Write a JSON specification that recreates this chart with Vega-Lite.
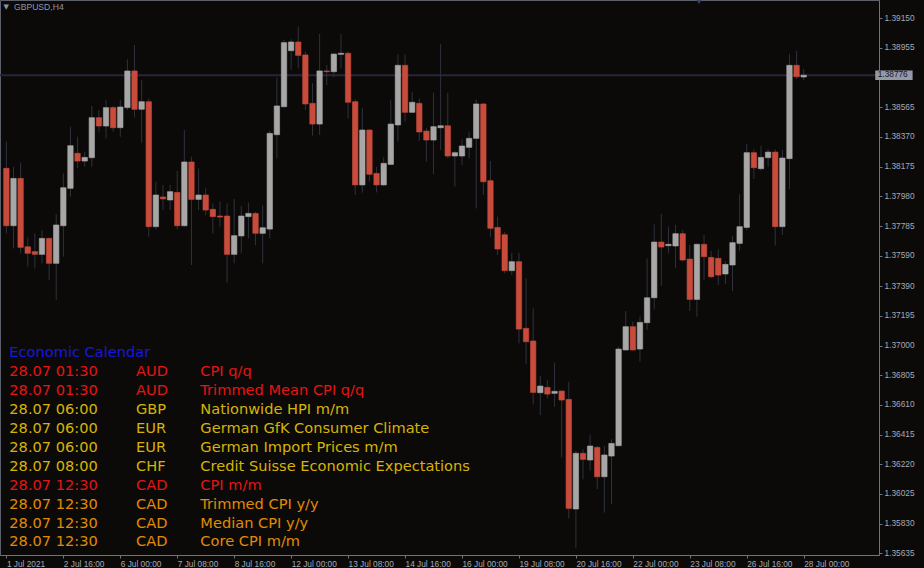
{
  "$schema": "https://vega.github.io/schema/vega-lite/v6.json",
  "width": 879,
  "height": 555,
  "autosize": {"type": "none"},
  "padding": {"left": 0, "top": 0, "right": 45, "bottom": 13},
  "background": "#0c0a08",
  "config": {
    "view": {"stroke": "#5c606c", "strokeWidth": 1},
    "axis": {"grid": false, "title": null, "labelOverlap": false, "labelSeparation": 0},
    "axisY": {"labelOverlap": false},
    "axisRight": {"labelOverlap": false},
    "axisQuantitative": {"labelOverlap": false}
  },
  "datasets": {
    "bars": [
      {"i": -8, "t": "2021-07-01 08:00", "o": 1.38164, "h": 1.38339, "l": 1.37737, "c": 1.37787},
      {"i": -7, "t": "2021-07-01 12:00", "o": 1.37787, "h": 1.38175, "l": 1.37638, "c": 1.38098},
      {"i": -6, "t": "2021-07-01 16:00", "o": 1.38098, "h": 1.38201, "l": 1.37606, "c": 1.37645},
      {"i": -5, "t": "2021-07-01 20:00", "o": 1.37649, "h": 1.37711, "l": 1.37518, "c": 1.37606},
      {"i": -4, "t": "2021-07-02 00:00", "o": 1.37617, "h": 1.37737, "l": 1.37507, "c": 1.37599},
      {"i": -3, "t": "2021-07-02 04:00", "o": 1.37599, "h": 1.37759, "l": 1.37540, "c": 1.37704},
      {"i": -2, "t": "2021-07-02 08:00", "o": 1.37704, "h": 1.37710, "l": 1.37430, "c": 1.37540},
      {"i": -1, "t": "2021-07-02 12:00", "o": 1.37540, "h": 1.37864, "l": 1.37299, "c": 1.37792},
      {"i": 0, "t": "2021-07-02 16:00", "o": 1.37787, "h": 1.38131, "l": 1.37584, "c": 1.38037},
      {"i": 1, "t": "2021-07-02 20:00", "o": 1.38033, "h": 1.38438, "l": 1.37978, "c": 1.38313},
      {"i": 2, "t": "2021-07-05 00:00", "o": 1.38263, "h": 1.38372, "l": 1.38164, "c": 1.38212},
      {"i": 3, "t": "2021-07-05 04:00", "o": 1.38212, "h": 1.38274, "l": 1.38175, "c": 1.38236},
      {"i": 4, "t": "2021-07-05 08:00", "o": 1.38234, "h": 1.38574, "l": 1.38175, "c": 1.38497},
      {"i": 5, "t": "2021-07-05 12:00", "o": 1.38497, "h": 1.38547, "l": 1.38405, "c": 1.38442},
      {"i": 6, "t": "2021-07-05 16:00", "o": 1.38442, "h": 1.38613, "l": 1.38361, "c": 1.38563},
      {"i": 7, "t": "2021-07-05 20:00", "o": 1.38563, "h": 1.38574, "l": 1.38405, "c": 1.38431},
      {"i": 8, "t": "2021-07-06 00:00", "o": 1.38431, "h": 1.38613, "l": 1.38372, "c": 1.38567},
      {"i": 9, "t": "2021-07-06 04:00", "o": 1.38563, "h": 1.38880, "l": 1.38547, "c": 1.38804},
      {"i": 10, "t": "2021-07-06 08:00", "o": 1.38804, "h": 1.38974, "l": 1.38499, "c": 1.38552},
      {"i": 11, "t": "2021-07-06 12:00", "o": 1.38552, "h": 1.38744, "l": 1.38333, "c": 1.38602},
      {"i": 12, "t": "2021-07-06 16:00", "o": 1.38602, "h": 1.38624, "l": 1.37715, "c": 1.37781},
      {"i": 13, "t": "2021-07-06 20:00", "o": 1.37781, "h": 1.38076, "l": 1.37763, "c": 1.37989},
      {"i": 14, "t": "2021-07-07 00:00", "o": 1.37976, "h": 1.38055, "l": 1.37890, "c": 1.37963},
      {"i": 15, "t": "2021-07-07 04:00", "o": 1.37956, "h": 1.38055, "l": 1.37890, "c": 1.38011},
      {"i": 16, "t": "2021-07-07 08:00", "o": 1.38006, "h": 1.38147, "l": 1.37763, "c": 1.37787},
      {"i": 17, "t": "2021-07-07 12:00", "o": 1.37787, "h": 1.38416, "l": 1.37781, "c": 1.38206},
      {"i": 18, "t": "2021-07-07 16:00", "o": 1.38206, "h": 1.38241, "l": 1.37529, "c": 1.37960},
      {"i": 19, "t": "2021-07-07 20:00", "o": 1.37960, "h": 1.38164, "l": 1.37890, "c": 1.37989},
      {"i": 20, "t": "2021-07-08 00:00", "o": 1.37989, "h": 1.38033, "l": 1.37857, "c": 1.37890},
      {"i": 21, "t": "2021-07-08 04:00", "o": 1.37895, "h": 1.37934, "l": 1.37737, "c": 1.37847},
      {"i": 22, "t": "2021-07-08 08:00", "o": 1.37851, "h": 1.37945, "l": 1.37781, "c": 1.37844},
      {"i": 23, "t": "2021-07-08 12:00", "o": 1.37851, "h": 1.37934, "l": 1.37413, "c": 1.37599},
      {"i": 24, "t": "2021-07-08 16:00", "o": 1.37599, "h": 1.37963, "l": 1.37540, "c": 1.37722},
      {"i": 25, "t": "2021-07-08 20:00", "o": 1.37720, "h": 1.37917, "l": 1.37606, "c": 1.37851},
      {"i": 26, "t": "2021-07-09 00:00", "o": 1.37847, "h": 1.37941, "l": 1.37704, "c": 1.37868},
      {"i": 27, "t": "2021-07-09 04:00", "o": 1.37868, "h": 1.37879, "l": 1.37660, "c": 1.37737},
      {"i": 28, "t": "2021-07-09 08:00", "o": 1.37737, "h": 1.37919, "l": 1.37540, "c": 1.37774},
      {"i": 29, "t": "2021-07-09 12:00", "o": 1.37765, "h": 1.38412, "l": 1.37704, "c": 1.38394},
      {"i": 30, "t": "2021-07-09 16:00", "o": 1.38385, "h": 1.38762, "l": 1.38230, "c": 1.38574},
      {"i": 31, "t": "2021-07-09 20:00", "o": 1.38569, "h": 1.39007, "l": 1.38565, "c": 1.38990},
      {"i": 32, "t": "2021-07-12 00:00", "o": 1.38937, "h": 1.39012, "l": 1.38810, "c": 1.38994},
      {"i": 33, "t": "2021-07-12 04:00", "o": 1.38994, "h": 1.39095, "l": 1.38821, "c": 1.38906},
      {"i": 34, "t": "2021-07-12 08:00", "o": 1.38909, "h": 1.38931, "l": 1.38547, "c": 1.38587},
      {"i": 35, "t": "2021-07-12 12:00", "o": 1.38591, "h": 1.38723, "l": 1.38379, "c": 1.38455},
      {"i": 36, "t": "2021-07-12 16:00", "o": 1.38455, "h": 1.39047, "l": 1.38383, "c": 1.38804},
      {"i": 37, "t": "2021-07-12 20:00", "o": 1.38804, "h": 1.38843, "l": 1.38712, "c": 1.38799},
      {"i": 38, "t": "2021-07-13 00:00", "o": 1.38799, "h": 1.38920, "l": 1.38762, "c": 1.38915},
      {"i": 39, "t": "2021-07-13 04:00", "o": 1.38913, "h": 1.39047, "l": 1.38821, "c": 1.38920},
      {"i": 40, "t": "2021-07-13 08:00", "o": 1.38920, "h": 1.38931, "l": 1.38493, "c": 1.38598},
      {"i": 41, "t": "2021-07-13 12:00", "o": 1.38602, "h": 1.38617, "l": 1.37989, "c": 1.38055},
      {"i": 42, "t": "2021-07-13 16:00", "o": 1.38055, "h": 1.38558, "l": 1.38004, "c": 1.38416},
      {"i": 43, "t": "2021-07-13 20:00", "o": 1.38416, "h": 1.38420, "l": 1.38076, "c": 1.38125},
      {"i": 44, "t": "2021-07-14 00:00", "o": 1.38131, "h": 1.38175, "l": 1.38006, "c": 1.38055},
      {"i": 45, "t": "2021-07-14 04:00", "o": 1.38055, "h": 1.38236, "l": 1.38050, "c": 1.38197},
      {"i": 46, "t": "2021-07-14 08:00", "o": 1.38190, "h": 1.38613, "l": 1.38186, "c": 1.38455},
      {"i": 47, "t": "2021-07-14 12:00", "o": 1.38449, "h": 1.38913, "l": 1.38339, "c": 1.38841},
      {"i": 48, "t": "2021-07-14 16:00", "o": 1.38841, "h": 1.38913, "l": 1.38471, "c": 1.38532},
      {"i": 49, "t": "2021-07-14 20:00", "o": 1.38532, "h": 1.38668, "l": 1.38528, "c": 1.38598},
      {"i": 50, "t": "2021-07-15 00:00", "o": 1.38591, "h": 1.38624, "l": 1.38346, "c": 1.38403},
      {"i": 51, "t": "2021-07-15 04:00", "o": 1.38409, "h": 1.38427, "l": 1.38208, "c": 1.38350},
      {"i": 52, "t": "2021-07-15 08:00", "o": 1.38350, "h": 1.38661, "l": 1.38125, "c": 1.38438},
      {"i": 53, "t": "2021-07-15 12:00", "o": 1.38431, "h": 1.38981, "l": 1.38285, "c": 1.38444},
      {"i": 54, "t": "2021-07-15 16:00", "o": 1.38444, "h": 1.38661, "l": 1.38230, "c": 1.38245},
      {"i": 55, "t": "2021-07-15 20:00", "o": 1.38245, "h": 1.38278, "l": 1.38044, "c": 1.38267},
      {"i": 56, "t": "2021-07-16 00:00", "o": 1.38245, "h": 1.38355, "l": 1.38186, "c": 1.38311},
      {"i": 57, "t": "2021-07-16 04:00", "o": 1.38302, "h": 1.38401, "l": 1.38230, "c": 1.38361},
      {"i": 58, "t": "2021-07-16 08:00", "o": 1.38361, "h": 1.38617, "l": 1.37901, "c": 1.38587},
      {"i": 59, "t": "2021-07-16 12:00", "o": 1.38587, "h": 1.38595, "l": 1.37989, "c": 1.38076},
      {"i": 60, "t": "2021-07-16 16:00", "o": 1.38083, "h": 1.38212, "l": 1.37715, "c": 1.37770},
      {"i": 61, "t": "2021-07-16 20:00", "o": 1.37776, "h": 1.37847, "l": 1.37595, "c": 1.37634},
      {"i": 62, "t": "2021-07-19 00:00", "o": 1.37728, "h": 1.37748, "l": 1.37474, "c": 1.37492},
      {"i": 63, "t": "2021-07-19 04:00", "o": 1.37492, "h": 1.37610, "l": 1.37463, "c": 1.37551},
      {"i": 64, "t": "2021-07-19 08:00", "o": 1.37551, "h": 1.37610, "l": 1.37014, "c": 1.37108},
      {"i": 65, "t": "2021-07-19 12:00", "o": 1.37113, "h": 1.37441, "l": 1.36876, "c": 1.37025},
      {"i": 66, "t": "2021-07-19 16:00", "o": 1.37030, "h": 1.37244, "l": 1.36614, "c": 1.36692},
      {"i": 67, "t": "2021-07-19 20:00", "o": 1.36690, "h": 1.36800, "l": 1.36543, "c": 1.36734},
      {"i": 68, "t": "2021-07-20 00:00", "o": 1.36725, "h": 1.36773, "l": 1.36653, "c": 1.36681},
      {"i": 69, "t": "2021-07-20 04:00", "o": 1.36686, "h": 1.36887, "l": 1.36598, "c": 1.36699},
      {"i": 70, "t": "2021-07-20 08:00", "o": 1.36701, "h": 1.36705, "l": 1.36265, "c": 1.36642},
      {"i": 71, "t": "2021-07-20 12:00", "o": 1.36646, "h": 1.36762, "l": 1.35865, "c": 1.35930},
      {"i": 72, "t": "2021-07-20 16:00", "o": 1.35926, "h": 1.36309, "l": 1.35670, "c": 1.36292},
      {"i": 73, "t": "2021-07-20 20:00", "o": 1.36292, "h": 1.36318, "l": 1.36121, "c": 1.36252},
      {"i": 74, "t": "2021-07-21 00:00", "o": 1.36248, "h": 1.36416, "l": 1.36178, "c": 1.36340},
      {"i": 75, "t": "2021-07-21 04:00", "o": 1.36331, "h": 1.36340, "l": 1.36057, "c": 1.36138},
      {"i": 76, "t": "2021-07-21 08:00", "o": 1.36138, "h": 1.36340, "l": 1.35902, "c": 1.36281},
      {"i": 77, "t": "2021-07-21 12:00", "o": 1.36274, "h": 1.36384, "l": 1.35959, "c": 1.36357},
      {"i": 78, "t": "2021-07-21 16:00", "o": 1.36342, "h": 1.36992, "l": 1.36338, "c": 1.36977},
      {"i": 79, "t": "2021-07-21 20:00", "o": 1.36971, "h": 1.37227, "l": 1.36965, "c": 1.37124},
      {"i": 80, "t": "2021-07-22 00:00", "o": 1.37124, "h": 1.37157, "l": 1.36965, "c": 1.36971},
      {"i": 81, "t": "2021-07-22 04:00", "o": 1.36977, "h": 1.37190, "l": 1.36894, "c": 1.37152},
      {"i": 82, "t": "2021-07-22 08:00", "o": 1.37150, "h": 1.37573, "l": 1.37102, "c": 1.37314},
      {"i": 83, "t": "2021-07-22 12:00", "o": 1.37314, "h": 1.37796, "l": 1.37238, "c": 1.37680},
      {"i": 84, "t": "2021-07-22 16:00", "o": 1.37680, "h": 1.37864, "l": 1.37391, "c": 1.37647},
      {"i": 85, "t": "2021-07-22 20:00", "o": 1.37656, "h": 1.37781, "l": 1.37606, "c": 1.37665},
      {"i": 86, "t": "2021-07-23 00:00", "o": 1.37654, "h": 1.37792, "l": 1.37511, "c": 1.37735},
      {"i": 87, "t": "2021-07-23 04:00", "o": 1.37735, "h": 1.37759, "l": 1.37551, "c": 1.37562},
      {"i": 88, "t": "2021-07-23 08:00", "o": 1.37568, "h": 1.37660, "l": 1.37227, "c": 1.37303},
      {"i": 89, "t": "2021-07-23 12:00", "o": 1.37303, "h": 1.37671, "l": 1.37190, "c": 1.37665},
      {"i": 90, "t": "2021-07-23 16:00", "o": 1.37665, "h": 1.37726, "l": 1.37430, "c": 1.37584},
      {"i": 91, "t": "2021-07-23 20:00", "o": 1.37579, "h": 1.37621, "l": 1.37441, "c": 1.37452},
      {"i": 92, "t": "2021-07-26 00:00", "o": 1.37573, "h": 1.37632, "l": 1.37398, "c": 1.37463},
      {"i": 93, "t": "2021-07-26 04:00", "o": 1.37470, "h": 1.37555, "l": 1.37404, "c": 1.37533},
      {"i": 94, "t": "2021-07-26 08:00", "o": 1.37529, "h": 1.37719, "l": 1.37358, "c": 1.37676},
      {"i": 95, "t": "2021-07-26 12:00", "o": 1.37671, "h": 1.37995, "l": 1.37623, "c": 1.37781},
      {"i": 96, "t": "2021-07-26 16:00", "o": 1.37776, "h": 1.38324, "l": 1.37759, "c": 1.38267},
      {"i": 97, "t": "2021-07-26 20:00", "o": 1.38267, "h": 1.38289, "l": 1.38094, "c": 1.38168},
      {"i": 98, "t": "2021-07-27 00:00", "o": 1.38162, "h": 1.38313, "l": 1.38149, "c": 1.38236},
      {"i": 99, "t": "2021-07-27 04:00", "o": 1.38234, "h": 1.38291, "l": 1.38175, "c": 1.38271},
      {"i": 100, "t": "2021-07-27 08:00", "o": 1.38271, "h": 1.38289, "l": 1.37656, "c": 1.37781},
      {"i": 101, "t": "2021-07-27 12:00", "o": 1.37781, "h": 1.38285, "l": 1.37726, "c": 1.38232},
      {"i": 102, "t": "2021-07-27 16:00", "o": 1.38228, "h": 1.38915, "l": 1.38028, "c": 1.38841},
      {"i": 103, "t": "2021-07-27 20:00", "o": 1.38841, "h": 1.38935, "l": 1.38751, "c": 1.38766},
      {"i": 104, "t": "2021-07-28 00:00", "o": 1.38764, "h": 1.38817, "l": 1.38744, "c": 1.38776}
    ],
    "cal": [
      {"row": 0, "time": "Economic Calendar", "cur": "", "event": "", "imp": "header"},
      {"row": 1, "time": "28.07 01:30", "cur": "AUD", "event": "CPI q/q", "imp": "high"},
      {"row": 2, "time": "28.07 01:30", "cur": "AUD", "event": "Trimmed Mean CPI q/q", "imp": "high"},
      {"row": 3, "time": "28.07 06:00", "cur": "GBP", "event": "Nationwide HPI m/m", "imp": "low"},
      {"row": 4, "time": "28.07 06:00", "cur": "EUR", "event": "German GfK Consumer Climate", "imp": "low"},
      {"row": 5, "time": "28.07 06:00", "cur": "EUR", "event": "German Import Prices m/m", "imp": "low"},
      {"row": 6, "time": "28.07 08:00", "cur": "CHF", "event": "Credit Suisse Economic Expectations", "imp": "low"},
      {"row": 7, "time": "28.07 12:30", "cur": "CAD", "event": "CPI m/m", "imp": "high"},
      {"row": 8, "time": "28.07 12:30", "cur": "CAD", "event": "Trimmed CPI y/y", "imp": "medium"},
      {"row": 9, "time": "28.07 12:30", "cur": "CAD", "event": "Median CPI y/y", "imp": "medium"},
      {"row": 10, "time": "28.07 12:30", "cur": "CAD", "event": "Core CPI m/m", "imp": "medium"}
    ],
    "chart": [
      {"name": "GBPUSD,H4"}
    ]
  },
  "layer": [
    {
      "data": {"name": "bars"},
      "layer": [
        {
          "transform": [{"filter": "datum.i == 104"}],
          "mark": {"type": "rule", "color": "#262638", "strokeWidth": 2},
          "encoding": {
            "y": {
              "field": "c", "type": "quantitative",
              "scale": {"domain": [1.35624, 1.3927], "nice": false, "zero": false},
              "axis": {
                "orient": "right",
                "values": [1.3915, 1.38955, 1.38565, 1.3837, 1.38175, 1.3798, 1.37785, 1.3759, 1.3739, 1.37195, 1.37, 1.36805, 1.3661, 1.36415, 1.3622, 1.36025, 1.3583, 1.35635],
                "tickCount": 18,
                "format": ".5f", "title": null, "grid": false,
                "domainColor": "#6e7282", "tickColor": "#6e7282", "tickSize": 3,
                "labelColor": "#a3abbc", "labelFont": "Liberation Sans", "labelFontSize": 8.3,
                "labelPadding": 2, "labelOverlap": false, "labelFlush": false, "labelBound": false, "labelSeparation": 0
              }
            }
          }
        },
        {
          "mark": {"type": "rule", "color": "#2e323e", "strokeWidth": 1, "clip": true},
          "encoding": {
            "x": {
              "field": "i", "type": "quantitative",
              "scale": {"domain": [-8.194, 113.875], "nice": false, "zero": false},
              "axis": {
                "values": [-8, 0, 8, 16, 24, 32, 40, 48, 56, 64, 72, 80, 88, 96, 104],
                "labelExpr": "datum.value < 0 ? '1 Jul 2021' : ['2 Jul 16:00','6 Jul 00:00','7 Jul 08:00','8 Jul 16:00','12 Jul 00:00','13 Jul 08:00','14 Jul 16:00','16 Jul 00:00','19 Jul 08:00','20 Jul 16:00','22 Jul 00:00','23 Jul 08:00','26 Jul 16:00','28 Jul 00:00'][datum.value / 8]",
                "title": null, "grid": false,
                "domainColor": "#6e7282", "tickColor": "#6e7282", "tickSize": 3,
                "labelColor": "#a3abbc", "labelFont": "Liberation Sans", "labelFontSize": 8.3,
                "labelAlign": "left", "labelBaseline": "top", "labelPadding": 1,
                "labelOverlap": false, "labelFlush": false, "labelBound": false
              }
            },
            "y": {"field": "l", "type": "quantitative", "scale": {"domain": [1.35624, 1.3927], "nice": false, "zero": false}},
            "y2": {"field": "h"}
          }
        },
        {
          "mark": {"type": "bar", "size": 5.4, "strokeWidth": 0.6, "clip": true},
          "encoding": {
            "x": {"field": "i", "type": "quantitative", "scale": {"domain": [-8.194, 113.875], "nice": false, "zero": false}},
            "y": {"field": "o", "type": "quantitative", "scale": {"domain": [1.35624, 1.3927], "nice": false, "zero": false}},
            "y2": {"field": "c"},
            "color": {"condition": {"test": "datum.c >= datum.o", "value": "#a7a7a7"}, "value": "#c94b3b"},
            "stroke": {"condition": {"test": "datum.c >= datum.o", "value": "#a7a7a7"}, "value": "#c94b3b"}
          }
        },
        {
          "transform": [{"filter": "datum.i == 104"}],
          "layer": [
            {
              "mark": {"type": "rect", "color": "#9399a6"},
              "encoding": {
                "x": {"datum": 114.05, "type": "quantitative", "scale": {"domain": [-8.194, 113.875], "nice": false, "zero": false}},
                "x2": {"datum": 119.3},
                "y": {"datum": 1.38807, "type": "quantitative", "scale": {"domain": [1.35624, 1.3927], "nice": false, "zero": false}},
                "y2": {"datum": 1.38745}
              }
            },
            {
              "mark": {"type": "text", "align": "left", "baseline": "middle", "font": "Liberation Sans", "fontSize": 8.3, "color": "#15151d"},
              "encoding": {
                "x": {"datum": 114.4, "type": "quantitative", "scale": {"domain": [-8.194, 113.875], "nice": false, "zero": false}},
                "y": {"field": "c", "type": "quantitative", "scale": {"domain": [1.35624, 1.3927], "nice": false, "zero": false}},
                "text": {"field": "c", "type": "quantitative", "format": ".5f"}
              }
            },
            {
              "mark": {"type": "point", "shape": "triangle-down", "size": 45, "filled": true, "color": "#3d4266", "opacity": 1},
              "encoding": {
                "x": {"datum": 89.3, "type": "quantitative", "scale": {"domain": [-8.194, 113.875], "nice": false, "zero": false}},
                "y": {"datum": 1.39262, "type": "quantitative", "scale": {"domain": [1.35624, 1.3927], "nice": false, "zero": false}}
              }
            }
          ]
        }
      ]
    },
    {
      "layer": [
        {
          "data": {"name": "cal"},
          "encoding": {
            "y": {"field": "row", "type": "quantitative", "scale": {"domain": [-18.915, 10.45], "reverse": true, "nice": false, "zero": false}, "axis": null},
            "color": {
              "field": "imp", "type": "nominal", "legend": null,
              "scale": {"domain": ["header", "high", "medium", "low"], "range": ["#1616e2", "#e41515", "#e08a06", "#d4b406"]}
            }
          },
          "layer": [
            {
              "mark": {"type": "text", "align": "left", "baseline": "alphabetic", "font": "DejaVu Sans", "fontSize": 14.6},
              "encoding": {
                "x": {"datum": -6.9, "type": "quantitative", "scale": {"domain": [-8.194, 113.875], "nice": false, "zero": false}, "axis": null},
                "text": {"field": "time"}
              }
            },
            {
              "mark": {"type": "text", "align": "left", "baseline": "alphabetic", "font": "DejaVu Sans", "fontSize": 14.6},
              "encoding": {
                "x": {"datum": 10.69, "type": "quantitative"},
                "text": {"field": "cur"}
              }
            },
            {
              "mark": {"type": "text", "align": "left", "baseline": "alphabetic", "font": "DejaVu Sans", "fontSize": 14.6},
              "encoding": {
                "x": {"datum": 19.63, "type": "quantitative"},
                "text": {"field": "event"}
              }
            }
          ]
        },
        {
          "data": {"name": "chart"},
          "layer": [
            {
              "mark": {"type": "text", "align": "left", "baseline": "alphabetic", "font": "Liberation Sans", "fontSize": 8.6, "color": "#8e96a8"},
              "encoding": {
                "x": {"datum": -6.25, "type": "quantitative"},
                "y": {"datum": -18.36, "type": "quantitative"},
                "text": {"field": "name"}
              }
            },
            {
              "mark": {"type": "text", "align": "center", "baseline": "middle", "font": "DejaVu Sans", "fontSize": 7, "color": "#8e96a8", "text": "▼"},
              "encoding": {
                "x": {"datum": -7.35, "type": "quantitative"},
                "y": {"datum": -18.55, "type": "quantitative"}
              }
            }
          ]
        }
      ]
    }
  ],
  "resolve": {"scale": {"x": "independent", "y": "independent", "color": "independent"}}
}
